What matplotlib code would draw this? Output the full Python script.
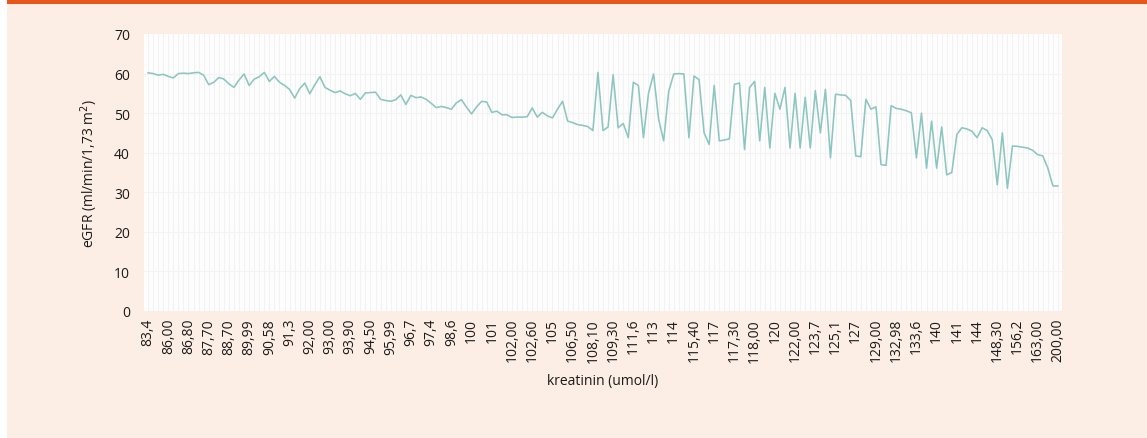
import numpy as np
import matplotlib
matplotlib.use('Agg')
import matplotlib.pyplot as plt
from matplotlib.patches import Rectangle

plt.rcParams['font.family'] = ['Open Sans', 'DejaVu Sans']

# kreatinin labels shown on the x axis (every 4th measurement)
kreatinin_labels = [
    '83,4', '86,00', '86,80', '87,70', '88,70', '89,99', '90,58', '91,3', '92,00',
    '93,00', '93,90', '94,50', '95,99', '96,7', '97,4', '98,6', '100', '101',
    '102,00', '102,60', '105', '106,50', '108,10', '109,30', '111,6', '113', '114',
    '115,40', '117', '117,30', '118,00', '120', '122,00', '123,7', '125,1', '127',
    '129,00', '132,98', '133,6', '140', '141', '144', '148,30', '156,2', '163,00',
    '200,00',
]
label_step = 4

egfr = [
    60.2, 60.0, 59.6, 59.8, 59.3, 58.9, 60.0, 60.1, 60.0, 60.2,
    60.3, 59.6, 57.2, 57.8, 59.0, 58.6, 57.4, 56.5, 58.4, 59.9,
    57.0, 58.6, 59.2, 60.3, 58.0, 59.3, 57.8, 57.0, 56.0, 53.8,
    56.2, 57.6, 54.9, 57.2, 59.2, 56.5, 55.8, 55.2, 55.6, 54.9,
    54.4, 55.0, 53.5, 55.1, 55.2, 55.3, 53.5, 53.2, 53.0, 53.4,
    54.6, 52.2, 54.5, 53.9, 54.1, 53.5, 52.5, 51.4, 51.7, 51.4,
    51.0, 52.6, 53.4, 51.5, 49.8, 51.6, 53.0, 52.8, 50.2, 50.5,
    49.6, 49.6, 48.9, 49.0, 49.0, 49.1, 51.3, 49.0, 50.2, 49.3,
    48.8, 51.0, 53.0, 48.0, 47.6, 47.1, 46.9, 46.6, 45.6, 60.3,
    45.6, 46.5, 59.7, 46.3, 47.4, 43.8, 57.8, 57.0, 43.8, 55.0,
    59.9, 48.5, 43.0, 55.5, 59.9, 60.0, 59.9, 43.8, 59.4, 58.5,
    45.0, 42.1, 57.0, 43.0, 43.2, 43.5, 57.3, 57.6, 40.8, 56.5,
    58.0, 43.0, 56.5, 41.2, 55.0, 51.0, 56.5, 41.2, 55.0, 41.2,
    54.0, 41.2, 55.7, 45.0, 56.0, 38.7, 54.8, 54.6, 54.5, 53.2,
    39.2, 39.0, 53.5, 51.0, 51.6, 37.0, 36.8, 51.9, 51.2, 51.0,
    50.6, 50.1, 38.7, 50.0, 36.1, 48.0, 36.1, 46.5, 34.4, 35.0,
    44.6, 46.3, 46.0, 45.4, 43.8, 46.3, 45.6, 43.3, 31.9, 45.0,
    31.0, 41.7, 41.6, 41.4, 41.2, 40.6, 39.5, 39.2, 36.1, 31.6,
    31.6,
]

PEACH = '#fdeee5'
ORANGE = '#e8561c'
LINE = '#8cc6c0'

fig = plt.figure(figsize=(11.47, 4.39), dpi=100)
fig.patch.set_facecolor('white')
fig.patches.append(Rectangle((7 / 1147, 0), 1 - 7 / 1147, 1, transform=fig.transFigure,
                             facecolor=PEACH, edgecolor='none', zorder=-2))
fig.patches.append(Rectangle((7 / 1147, 1 - 5 / 439), 1 - 7 / 1147, 5 / 439,
                             transform=fig.transFigure, facecolor=ORANGE,
                             edgecolor='none', zorder=-1))

ax = fig.add_axes([144 / 1147, 1 - 312 / 439, (1062 - 144) / 1147, (312 - 35) / 439])
ax.set_facecolor('#fdfdfd')

x = np.arange(len(egfr))
for xi in x:
    ax.axvline(xi, color='#f1f1f1', lw=0.6, zorder=0)
for yv in range(10, 70, 10):
    ax.axhline(yv, color='#f3f3f3', lw=0.8, zorder=0)

ax.plot(x, egfr, color=LINE, lw=1.15, zorder=3)

ax.set_xlim(-0.8, len(egfr) - 0.2)
ax.set_ylim(0, 70)
ax.set_yticks(range(0, 71, 10))
ax.set_xticks(x[::label_step])
ax.set_xticklabels(kreatinin_labels, rotation=90)
ax.tick_params(axis='both', length=0, labelsize=10, colors='#1a1a1a')
ax.tick_params(axis='x', pad=5)
ax.tick_params(axis='y', pad=10)
for s in ax.spines.values():
    s.set_visible(False)

ax.set_ylabel('eGFR (ml/min/1,73 m$^2$)', fontsize=10, color='#1a1a1a', labelpad=10)
fig.text((144 + 1062) / 2 / 1147, 1 - 382 / 439, 'kreatinin (umol/l)', ha='center',
         va='center', fontsize=10, color='#1a1a1a')

fig.savefig('out.png', dpi=100, facecolor=fig.get_facecolor())
